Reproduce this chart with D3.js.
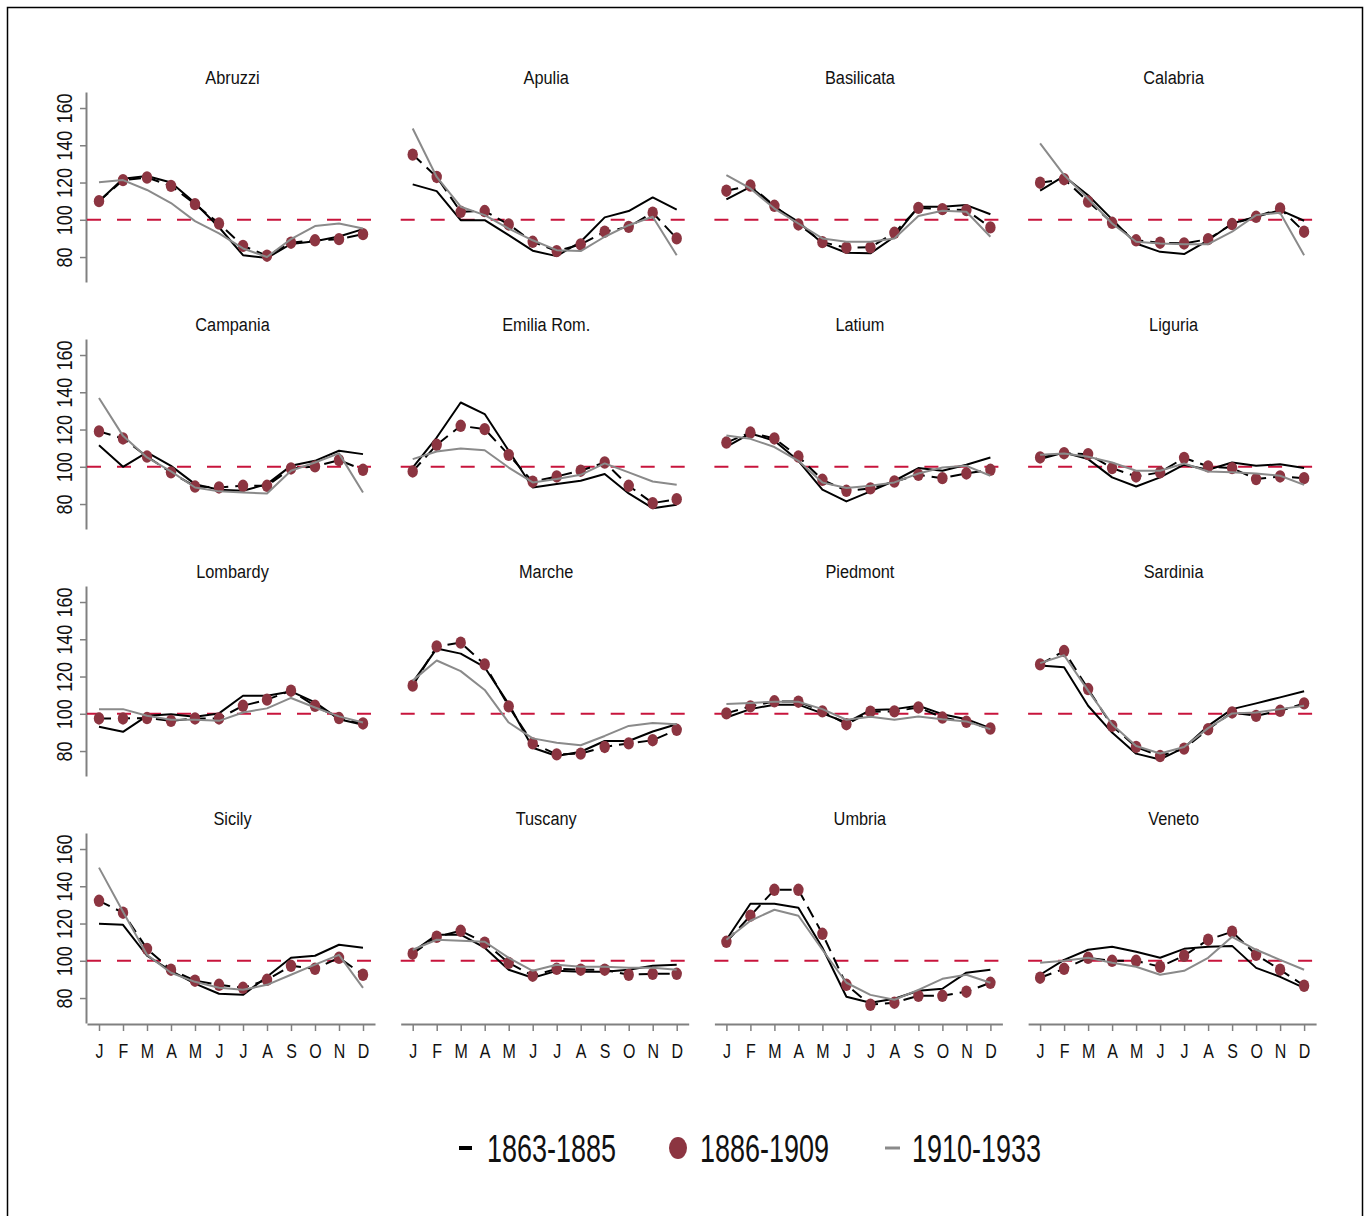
<!DOCTYPE html>
<html><head><meta charset="utf-8">
<script src="https://cdn.jsdelivr.net/npm/d3@7"></script>
<style>body{margin:0;background:#fff}svg{display:block}</style>
</head><body>
<script>
const regions = ["Abruzzi","Apulia","Basilicata","Calabria","Campania","Emilia Rom.","Latium","Liguria","Lombardy","Marche","Piedmont","Sardinia","Sicily","Tuscany","Umbria","Veneto"];
const months = ["J","F","M","A","M","J","J","A","S","O","N","D"];
const yTicks = [80,100,120,140,160];
const seriesNames = ["1863-1885","1886-1909","1910-1933"];

const s1863 = [
 [110,122,123.5,120,109,96,81,79.5,87,88.5,91,95],
 [119,115.4,99.8,99.8,91.8,83.4,80.5,88.2,101.3,104.7,112,105.5],
 [110.9,117.7,107,98.9,87.3,82.3,82,90.9,107,107,107.9,103],
 [115.6,123.4,113.2,100.2,87.3,82.8,81.6,89,98,101.6,105.2,99.5],
 [111.6,100,107.7,100.5,90.7,87.7,87.1,90.7,100.5,103.2,108.6,106.8],
 [99.6,115.7,134.5,128.3,108.6,88.9,90.7,92.5,96.1,85.7,77.8,79.6],
 [110.7,117.9,114,103.2,87.7,81.4,86.8,92.5,99.3,97.9,101.1,105],
 [104.1,107.7,104.1,94.3,89.4,94.3,101.1,98.4,102.3,100.5,101.4,99.3],
 [93,90.3,98.9,99.8,98.4,100.2,109.7,109.7,112,106.1,97.1,94.1],
 [116.9,135,132.3,125,105.2,81.8,77.3,79.6,85.4,85.4,90.5,94.4],
 [98,102.5,104.9,104.9,100.2,95.3,102,102.5,104.3,99.8,97.1,92.3],
 [125.9,125,104.3,89.9,78.6,75.5,81.8,93.5,102.5,105.6,108.8,112.1],
 [119.9,119.3,102.7,94.6,87.7,82.3,81.7,91.4,101.6,102.7,108.6,107],
 [104.8,114,114,107,95.2,90.9,94.6,94.1,94.1,95.2,97.3,97.9],
 [111.3,130.6,130.6,128.5,107,80.7,77.5,79.6,83.9,85,93.6,95.2],
 [92.5,100.5,105.9,107.5,104.8,101.6,106.4,107.5,108,96.2,91.4,85.5]
];
const s1886 = [
 [110,121.3,122.7,118.2,108.4,98,86,80.7,87.7,89,89.6,92.3],
 [135,123,104.3,104.7,97.5,88.2,83.2,86.8,93.6,96.2,103.8,90],
 [115.6,118.4,107.5,97.5,88,85,85.2,93,106.4,105.7,105.2,95.9],
 [119.9,121.8,109.8,98.4,89,87.7,87.3,89.6,97.7,101.6,106.1,93.6],
 [119,115.2,105.5,97,89.4,88.9,89.8,89.8,99.1,100.2,103.6,98.4],
 [97.5,111.8,122,120.2,106.4,92,94.8,97.9,102.3,89.8,80.5,82.6],
 [113,118.4,115.2,105.5,93,87.1,88.4,92.1,95.7,93.9,96.4,98.4],
 [105,107.3,106.8,99.3,94.8,97,104.8,100.2,99.3,93.4,94.8,93.9],
 [97.5,97.5,97.7,96.2,97.5,97.5,104.3,107.6,112.4,104.3,97.7,94.8],
 [115.1,136.2,138.2,126.5,104,84.1,78.2,78.6,82.2,84.1,85.8,91.4],
 [100.2,104,106.7,106.5,101.3,94.4,101.1,101.3,103.4,98,95.7,92.1],
 [126.5,133.7,113.3,93.5,82.2,77.3,81.3,91.7,100.7,98.9,101.6,105.6],
 [132.2,125.8,106.4,95.2,89.3,87.1,85.5,89.8,97.3,95.7,101.6,92.5],
 [103.8,112.9,116.1,109.7,98.9,92,95.7,95.2,95.2,92.5,93,93],
 [110.2,124.2,138.1,138.1,114.5,87.1,76.4,77.5,81.2,81.2,83.4,88.2],
 [90.9,95.7,101.6,100,100,96.8,102.7,111.3,115.6,103.2,95.2,86.6]
];
const s1910 = [
 [120.2,121.3,116,109,99.3,92.7,84.6,80,89.6,96.6,98,95.3],
 [149,123,107,102.5,95.3,89,83.7,83.2,90.9,97.1,101.6,81],
 [124,116.8,106,98,90,88.2,88.2,90,102,104.8,104.3,90.9],
 [141,124,111.4,98,88.2,87.3,86.8,86.9,93.6,102.5,103.8,81],
 [136.9,116.6,105,97.5,88.9,86.8,86.2,85.7,97.9,102.3,107.2,86.2],
 [104.1,108.2,109.8,108.9,99.6,91.6,93.4,95.7,101.8,97,92.1,90.3],
 [116.8,115,110.6,103.2,91.6,88.6,89.8,91.6,96.4,99.6,100.5,95.2],
 [106.4,107.1,105.4,102.3,97.9,97.9,101.8,97.5,97,96.4,95.2,90.3],
 [102.5,102.5,98.9,96.8,96.8,96.2,100.7,102.9,108.5,103.4,98.6,95.3],
 [117.8,128.6,122.9,112.8,95.3,86.8,84.5,83.1,88.1,93.5,95,94.4],
 [105.2,105.8,106.5,106.5,102.5,96.8,98.4,96.8,98.6,97.1,95.9,91.7],
 [127.2,131.4,112.4,94.4,82.7,78.7,82.2,92.3,100.2,100.7,102.5,104.3],
 [150,126.3,103.2,93.6,88.7,85.5,84.4,87.1,92.5,97.9,103.2,85.5],
 [105.9,111.3,110.7,110.2,101.6,94.6,97.9,96.8,96.8,96.2,96.2,95.2],
 [111.3,121.5,127.4,124.2,105.9,88.2,81.7,79.1,84.4,90.3,92.5,88.2],
 [98.9,100,101.6,98.9,96.8,92.5,94.6,101.6,112.9,105.9,100.5,95.2]
];

const W = 1369, H = 1216;
const FONT = "'Liberation Sans', Arial, sans-serif";
const MAROON = "#8c3541", RED = "#c8143c", GREY = "#8a8a8a", AXIS = "#808080";
const PW = 288, PH = 190, X0 = 87, Y0 = 92, DX = 313.7, DY = 247;

const svg = d3.select("body").append("svg").attr("width", W).attr("height", H);
svg.append("rect").attr("width", W).attr("height", H).attr("fill", "#fff");
svg.append("rect").attr("x", 7.5).attr("y", 7.5).attr("width", 1355).attr("height", 1222)
  .attr("fill", "none").attr("stroke", "#000").attr("stroke-width", 1.5);

const x = d3.scaleLinear().domain([0.5, 12.5]).range([0, PW]);
const y = d3.scaleLinear().domain([66.6, 168.6]).range([PH, 0]);
const line = d3.line().x((d, i) => x(i + 1)).y(d => y(d));

regions.forEach((name, k) => {
  const r = Math.floor(k / 4), c = k % 4;
  const g = svg.append("g").attr("transform", `translate(${X0 + c * DX},${Y0 + r * DY})`);

  g.append("text").attr("transform", `translate(${PW / 2 + 1.5},-8) scale(0.86,1)`)
    .attr("text-anchor", "middle").attr("font-family", FONT).attr("font-size", 19)
    .attr("fill", "#111").text(name);

  if (c === 0) {
    const ax = g.append("g").attr("transform", "translate(-1,0)")
      .call(d3.axisLeft(y).tickValues(yTicks).tickSize(6).tickSizeOuter(0));
    ax.select(".domain").attr("stroke", AXIS).attr("stroke-width", 2);
    ax.selectAll(".tick line").attr("stroke", AXIS).attr("stroke-width", 1.5);
    ax.selectAll(".tick text").attr("x", null).attr("dy", null)
      .attr("transform", "translate(-14,0) rotate(-90) scale(0.84,1)")
      .attr("text-anchor", "middle").attr("font-family", FONT).attr("font-size", 21.5).attr("fill", "#111");
  }
  if (r === 3) {
    const ax = g.append("g").attr("transform", `translate(0,${PH + 1})`)
      .call(d3.axisBottom(x).tickValues(d3.range(1, 13)).tickFormat(i => months[i - 1]).tickSize(7).tickSizeOuter(0));
    ax.select(".domain").attr("stroke", AXIS).attr("stroke-width", 2);
    ax.selectAll(".tick line").attr("stroke", AXIS).attr("stroke-width", 1.5);
    ax.selectAll(".tick text").attr("y", null).attr("dy", null)
      .attr("transform", "translate(0,34) scale(0.82,1)")
      .attr("text-anchor", "middle").attr("font-family", FONT).attr("font-size", 19.5).attr("fill", "#111");
  }

  g.append("line").attr("x1", 0).attr("x2", PW).attr("y1", y(100)).attr("y2", y(100))
    .attr("stroke", RED).attr("stroke-width", 2).attr("stroke-dasharray", "14,16");

  g.append("path").datum(s1863[k]).attr("d", line).attr("fill", "none")
    .attr("stroke", "#000").attr("stroke-width", 2).attr("stroke-linejoin", "round");
  g.append("path").datum(s1886[k]).attr("d", line).attr("fill", "none")
    .attr("stroke", "#000").attr("stroke-width", 2).attr("stroke-dasharray", "12,7");
  g.selectAll("ellipse").data(s1886[k]).join("ellipse")
    .attr("cx", (d, i) => x(i + 1)).attr("cy", d => y(d)).attr("rx", 5.2).attr("ry", 6.2).attr("fill", MAROON);
  g.append("path").datum(s1910[k]).attr("d", line).attr("fill", "none")
    .attr("stroke", GREY).attr("stroke-width", 2).attr("stroke-linejoin", "round");
});

// legend
const lg = svg.append("g").attr("transform", "translate(0,1148)");
const legendItems = [
  {x: 459, w: 13, type: "line", color: "#000", sw: 4, tx: 487},
  {x: 678, type: "dot", tx: 700},
  {x: 885, w: 15, type: "line", color: GREY, sw: 3, tx: 912}
];
legendItems.forEach((it, i) => {
  if (it.type === "line") {
    lg.append("line").attr("x1", it.x).attr("x2", it.x + it.w).attr("y1", 0).attr("y2", 0)
      .attr("stroke", it.color).attr("stroke-width", it.sw);
  } else {
    lg.append("ellipse").attr("cx", it.x).attr("cy", 0).attr("rx", 9).attr("ry", 11).attr("fill", MAROON);
  }
  lg.append("text").attr("transform", `translate(${it.tx},14) scale(0.71,1)`)
    .attr("font-family", FONT).attr("font-size", 38).attr("fill", "#111").text(seriesNames[i]);
});
</script>
</body></html>
